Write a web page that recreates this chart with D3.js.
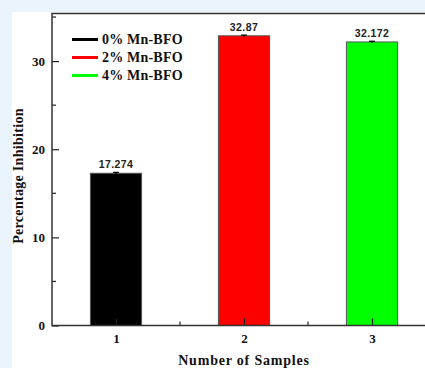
<!DOCTYPE html>
<html>
<head>
<meta charset="utf-8">
<script src="https://cdn.jsdelivr.net/npm/d3@7"></script>
<style>
  body { margin: 0; background: #e9f4fc; }
  svg { display: block; }
</style>
</head>
<body>
<svg width="425" height="368"></svg>
<script>
// data
const samples = [1, 2, 3];
const sampleNames = ["0% Mn-BFO", "2% Mn-BFO", "4% Mn-BFO"];
const inhibition = [17.274, 32.87, 32.172];
const errors = [0.1, 0.08, 0.08];
const valueLabels = ["17.274", "32.87", "32.172"];
const barColors = ["#000000", "#ff0000", "#00ff00"];

const yMajor = [0, 10, 20, 30];
const yMinor = [5, 15, 25, 35];
const xMinor = [1.5, 2.5, 3.5];

let svg = d3.select("svg");

svg.append("rect").attr("width", 425).attr("height", 368).attr("fill", "#e9f4fc");
svg.append("rect").attr("x", 12).attr("y", 12).attr("width", 413).attr("height", 356).attr("fill", "#fff");

const plotLeft = 52, plotRight = 436, plotTop = 13.5, plotBottom = 325.5;

var x = d3.scaleLinear().domain([0.5, 3.5]).range([plotLeft, plotRight]);
var y = d3.scaleLinear().domain([0, 35.4]).range([plotBottom, plotTop]);

const serif = "'Liberation Serif', 'Times New Roman', serif";

// bars
var bars = svg.append("g");
bars.selectAll("rect")
  .data(samples)
  .enter()
  .append("rect")
  .attr("x", (d) => x(d - 0.2))
  .attr("width", x(0.9) - x(0.5))
  .attr("y", (d, i) => y(inhibition[i]))
  .attr("height", (d, i) => y(0) - y(inhibition[i]))
  .attr("fill", (d, i) => barColors[i])
  .attr("stroke", "#555")
  .attr("stroke-width", 1);

// error bars (tiny)
var err = svg.append("g").attr("stroke", "#000").attr("stroke-width", 1.2);
samples.forEach((d, i) => {
  const cx = x(d);
  err.append("line")
    .attr("x1", cx).attr("x2", cx)
    .attr("y1", y(inhibition[i] - errors[i])).attr("y2", y(inhibition[i] + errors[i]));
  err.append("line")
    .attr("x1", cx - 3).attr("x2", cx + 3)
    .attr("y1", y(inhibition[i] + errors[i])).attr("y2", y(inhibition[i] + errors[i]));
});

// value labels
svg.append("g")
  .selectAll("text")
  .data(samples)
  .enter()
  .append("text")
  .attr("x", (d) => x(d))
  .attr("y", (d, i) => y(inhibition[i]) - 5)
  .attr("text-anchor", "middle")
  .attr("font-family", "'Liberation Sans', Arial, sans-serif")
  .attr("font-weight", "bold")
  .attr("font-size", "10.5px")
  .attr("letter-spacing", "0.4px")
  .attr("fill", "#222")
  .text((d, i) => valueLabels[i]);

// axes
var yAxis = d3.axisLeft(y).tickValues(yMajor).tickSize(-7).tickPadding(7).tickFormat(d3.format("d"));
var gy = svg.append("g").attr("transform", `translate(${plotLeft},0)`).call(yAxis);
var xAxis = d3.axisBottom(x).tickValues(samples).tickSize(-7).tickPadding(8).tickFormat(d3.format("d"));
var gx = svg.append("g").attr("transform", `translate(0,${plotBottom})`).call(xAxis);

[gx, gy].forEach((g) => {
  g.select(".domain").remove();
  g.selectAll("line").attr("stroke", "#222").attr("stroke-width", 1.2);
  g.selectAll("text")
    .attr("font-family", serif)
    .attr("font-weight", "bold")
    .attr("font-size", "13px")
    .attr("fill", "#111");
});

// minor ticks
svg.append("g").selectAll("line").data(yMinor).enter().append("line")
  .attr("x1", plotLeft).attr("x2", plotLeft + 4)
  .attr("y1", (d) => y(d)).attr("y2", (d) => y(d))
  .attr("stroke", "#222").attr("stroke-width", 1.2);
svg.append("g").selectAll("line").data(xMinor).enter().append("line")
  .attr("x1", (d) => x(d)).attr("x2", (d) => x(d))
  .attr("y1", plotBottom).attr("y2", plotBottom - 4)
  .attr("stroke", "#222").attr("stroke-width", 1.2);

// frame: left, bottom, top
var frame = svg.append("g").attr("stroke", "#333").attr("stroke-width", 1.5).attr("fill", "none");
frame.append("path").attr("d", `M${plotRight},${plotTop}H${plotLeft}V${plotBottom}H${plotRight}`);

// axis titles
svg.append("text")
  .attr("x", (plotLeft + plotRight) / 2)
  .attr("y", 365)
  .attr("text-anchor", "middle")
  .attr("font-family", serif)
  .attr("font-weight", "bold")
  .attr("font-size", "14px")
  .attr("letter-spacing", "0.8px")
  .attr("fill", "#111")
  .text("Number of Samples");

svg.append("text")
  .attr("transform", "translate(23,176) rotate(-90)")
  .attr("text-anchor", "middle")
  .attr("font-family", serif)
  .attr("font-weight", "bold")
  .attr("font-size", "14px")
  .attr("letter-spacing", "0.3px")
  .attr("fill", "#111")
  .text("Percentage Inhibition");

// legend
var legend = svg.append("g")
  .selectAll("g")
  .data(sampleNames)
  .enter()
  .append("g")
  .attr("transform", (d, i) => `translate(0,${39.5 + i * 18})`);
legend.append("line")
  .attr("x1", 72).attr("x2", 98)
  .attr("stroke", (d, i) => barColors[i])
  .attr("stroke-width", 3);
legend.append("text")
  .attr("x", 102)
  .attr("dy", "0.35em")
  .attr("font-family", serif)
  .attr("font-weight", "bold")
  .attr("font-size", "14px")
  .attr("letter-spacing", "0.2px")
  .attr("fill", "#111")
  .text((d) => d);
</script>
</body>
</html>
